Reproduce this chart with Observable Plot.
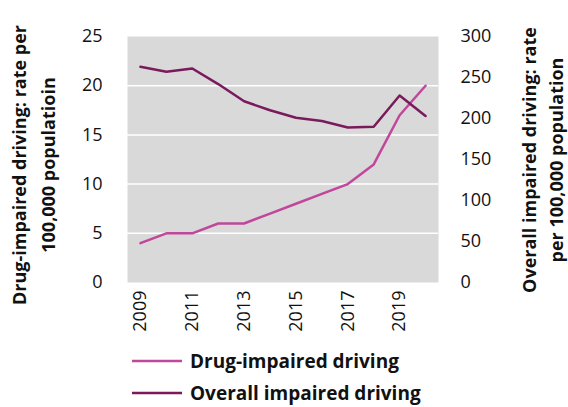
<!DOCTYPE html>
<html><head><meta charset="utf-8">
<script src="https://cdn.jsdelivr.net/npm/d3@7"></script>
<script src="https://cdn.jsdelivr.net/npm/@observablehq/plot@0.6"></script>
<style>
body{margin:0;background:#fff;font-family:"Open Sans",sans-serif;}
#legend{position:relative;height:62px;width:568px;}
.row{position:absolute;left:132px;display:flex;align-items:center;font-weight:bold;font-size:19px;color:#111;white-space:nowrap;}
.row svg{margin-right:8px;}
</style></head><body><div id="chart"></div><div id="legend"></div>
<script>
const years = [2009,2010,2011,2012,2013,2014,2015,2016,2017,2018,2019,2020];
const drugRate = [4,5,5,6,6,7,8,9,10,12,17,20];
const overallRate = [263,257,261,242,221,210,201,197,189,190,228,203];
const leftTicks = [0,5,10,15,20,25];
const rightTicks = [0,50,100,150,200,250,300];
const xTickYears = [2009,2011,2013,2015,2017,2019];
const seriesNames = ["Drug-impaired driving","Overall impaired driving"];
const seriesColors = ["#c0479b","#7a1a5c"];
const leftTitle = ["Drug-impaired driving: rate per","100,000 populatioin"];
const rightTitle = ["Overall impaired driving: rate","per 100,000 population"];

const ratio = 25/300;
const data = years.map((y,i)=>({year:y, drug:drugRate[i], overall:overallRate[i]}));

const W=568, H=345;
const chart = Plot.plot({
  width: W, height: H,
  marginLeft:127, marginRight:130, marginTop:36, marginBottom:H-282,
  style:{fontFamily:"Open Sans, sans-serif", fontSize:"18px", color:"#111", background:"white"},
  x:{domain:[2008.5,2020.5]},
  y:{domain:[0,25]},
  marks:[
    Plot.frame({fill:"#d9d9d9", stroke:null}),
    Plot.ruleY([5,10,15,20], {stroke:"white", strokeWidth:1.5}),
    Plot.axisY(leftTicks, {anchor:"left", tickSize:0, tickPadding:25, label:null, fontSize:18}),
    Plot.axisY(rightTicks.map(v=>v*ratio), {anchor:"right", tickSize:0, tickPadding:22, label:null, fontSize:18, tickFormat:d=>String(Math.round(d/ratio))}),
    Plot.axisX(xTickYears, {anchor:"bottom", tickSize:0, tickPadding:8, tickRotate:-90, label:null, fontSize:18, tickFormat:d=>String(d)}),
    Plot.line(data, {x:"year", y:"drug", stroke:seriesColors[0], strokeWidth:2.5}),
    Plot.line(data, {x:"year", y:d=>d.overall*ratio, stroke:seriesColors[1], strokeWidth:2.5})
  ]
});
document.getElementById("chart").appendChild(chart);

const svg = d3.select(chart);
function title(lines, xs, cy){
  lines.forEach((t,i)=>{
    svg.append("text")
      .attr("transform",`translate(${xs[i]},${cy}) rotate(-90)`)
      .attr("text-anchor","middle").attr("dominant-baseline","central")
      .attr("font-family","Open Sans, sans-serif").attr("font-weight","bold")
      .attr("font-size",18).attr("fill","#111").text(t);
  });
}
title(leftTitle,[19,48],165);
title(rightTitle,[529,556],160);

const leg = document.getElementById("legend");
seriesNames.forEach((n,i)=>{
  const r = document.createElement("div");
  r.className="row";
  r.style.top = (i===0? 3: 35)+"px";
  r.innerHTML = `<svg width="50" height="6"><line x1="0" x2="50" y1="3" y2="3" stroke="${seriesColors[i]}" stroke-width="2.5"/></svg><span>${n}</span>`;
  leg.appendChild(r);
});
</script></body></html>
